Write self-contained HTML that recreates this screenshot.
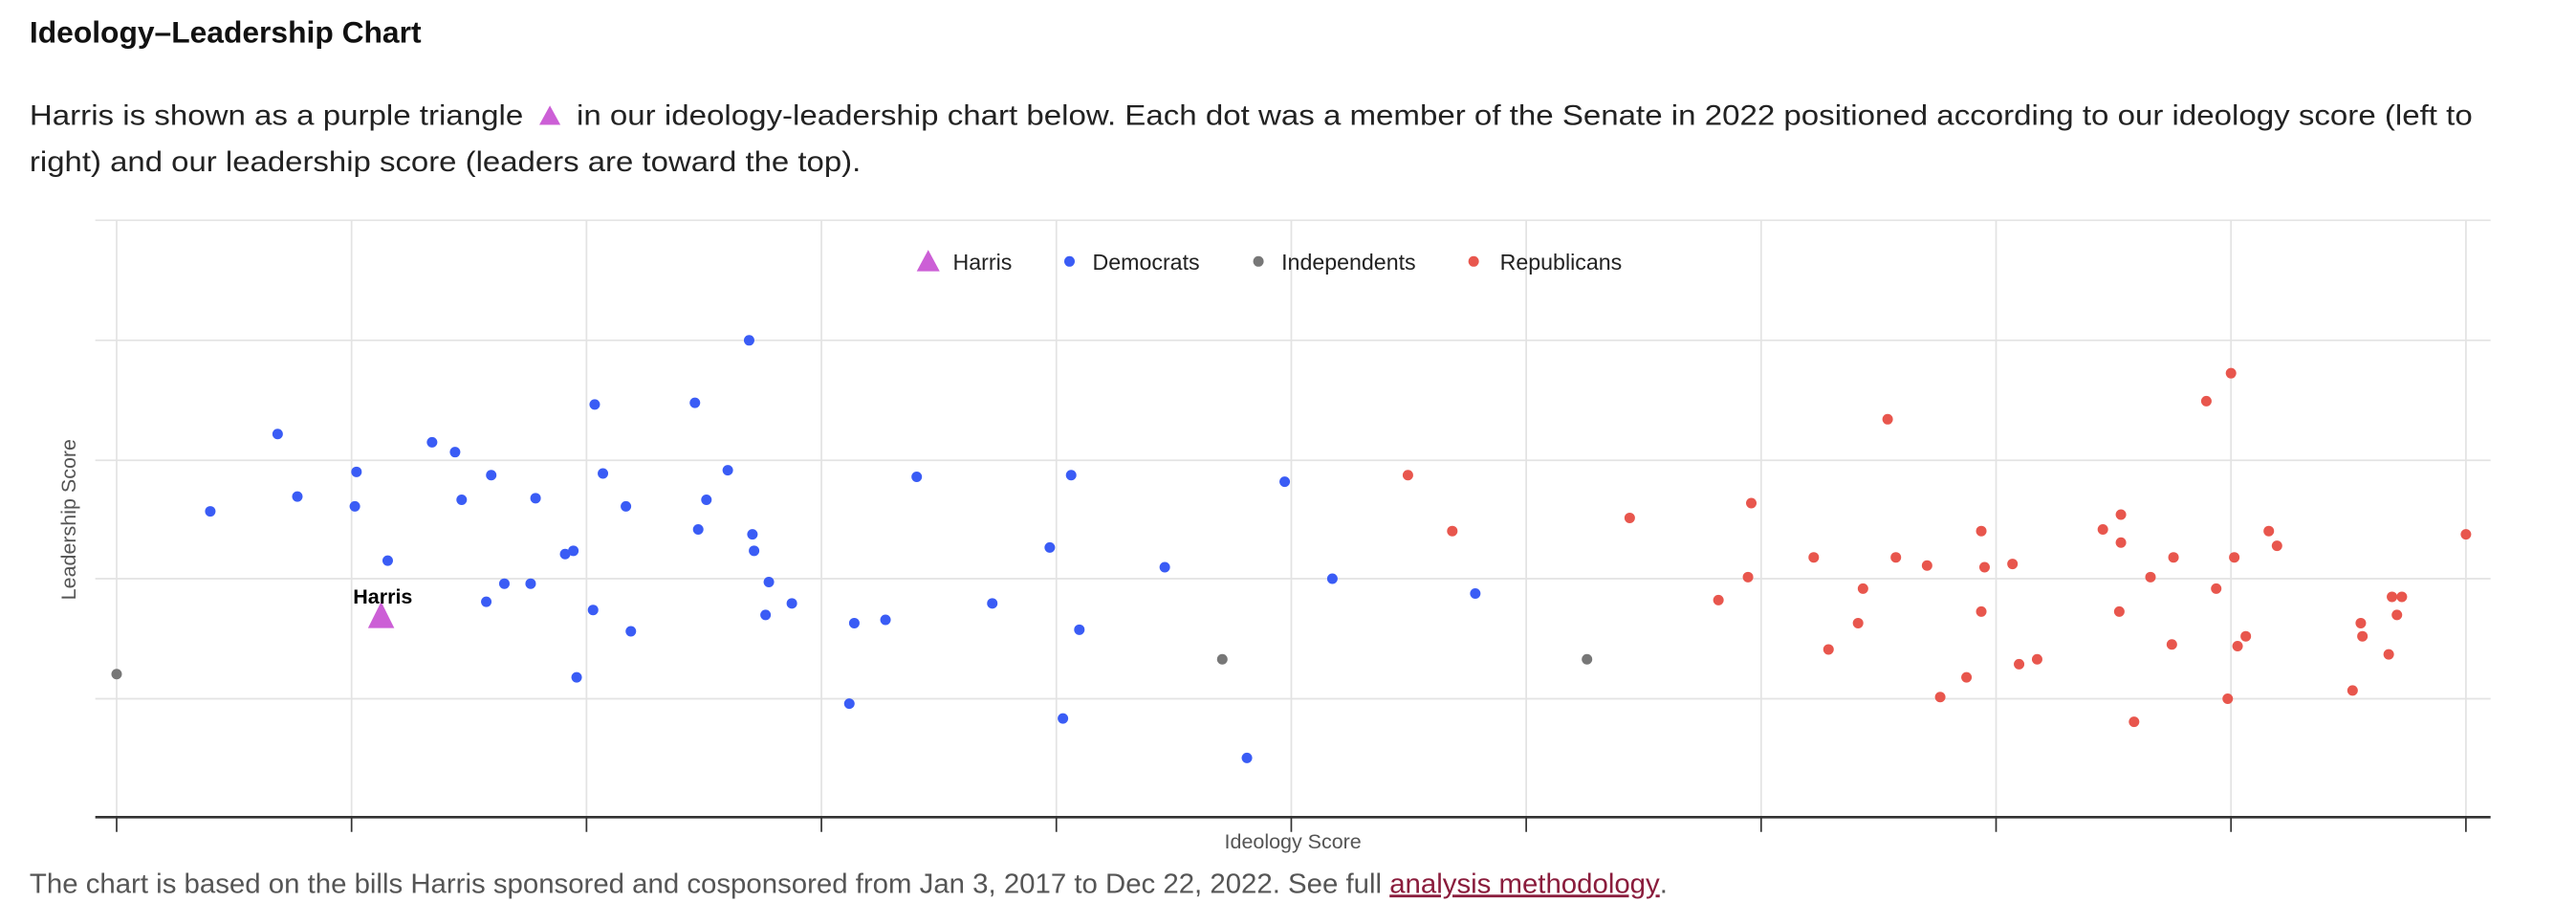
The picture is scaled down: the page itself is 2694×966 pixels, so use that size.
<!DOCTYPE html>
<html><head><meta charset="utf-8"><style>
html,body{margin:0;padding:0;background:#fff}
svg{display:block}
text{font-family:"Liberation Sans",sans-serif}
</style></head><body>
<svg width="2694" height="966" viewBox="0 0 1568 562" preserveAspectRatio="none" xmlns="http://www.w3.org/2000/svg">
<text x="18" y="26" font-size="18.5" font-weight="bold" fill="#111">Ideology–Leadership Chart</text>
<text x="18" y="76" font-size="17.5" fill="#222" textLength="1487" lengthAdjust="spacingAndGlyphs">Harris is shown as a purple triangle <tspan fill="#cc5fd6" font-size="20">▲</tspan> in our ideology-leadership chart below. Each dot was a member of the Senate in 2022 positioned according to our ideology score (left to</text>
<text x="18" y="104" font-size="17.5" fill="#222" textLength="506" lengthAdjust="spacingAndGlyphs">right) and our leadership score (leaders are toward the top).</text>
<g stroke="#e3e3e3" stroke-width="1">
<line x1="58" x2="1516" y1="134" y2="134"/><line x1="58" x2="1516" y1="207" y2="207"/><line x1="58" x2="1516" y1="280" y2="280"/><line x1="58" x2="1516" y1="352" y2="352"/><line x1="58" x2="1516" y1="425" y2="425"/>
<line x1="71" x2="71" y1="134" y2="497"/><line x1="214" x2="214" y1="134" y2="497"/><line x1="357" x2="357" y1="134" y2="497"/><line x1="500" x2="500" y1="134" y2="497"/><line x1="643" x2="643" y1="134" y2="497"/><line x1="786" x2="786" y1="134" y2="497"/><line x1="929" x2="929" y1="134" y2="497"/><line x1="1072" x2="1072" y1="134" y2="497"/><line x1="1215" x2="1215" y1="134" y2="497"/><line x1="1358" x2="1358" y1="134" y2="497"/><line x1="1501" x2="1501" y1="134" y2="497"/>
</g>
<line x1="58" x2="1516" y1="497" y2="497" stroke="#333" stroke-width="1.5"/>
<g stroke="#333" stroke-width="1">
<line x1="71" x2="71" y1="497" y2="506"/><line x1="214" x2="214" y1="497" y2="506"/><line x1="357" x2="357" y1="497" y2="506"/><line x1="500" x2="500" y1="497" y2="506"/><line x1="643" x2="643" y1="497" y2="506"/><line x1="786" x2="786" y1="497" y2="506"/><line x1="929" x2="929" y1="497" y2="506"/><line x1="1072" x2="1072" y1="497" y2="506"/><line x1="1215" x2="1215" y1="497" y2="506"/><line x1="1358" x2="1358" y1="497" y2="506"/><line x1="1501" x2="1501" y1="497" y2="506"/>
</g>
<text x="787" y="516" font-size="12.5" fill="#555" text-anchor="middle">Ideology Score</text>
<text transform="translate(46,316) rotate(-90)" font-size="12.5" fill="#555" text-anchor="middle">Leadership Score</text>
<polygon points="565,152 572,165 558,165" fill="#cc5fd6"/>
<text x="580" y="164" font-size="13.5" fill="#222">Harris</text>
<circle cx="651" cy="159" r="3.2" fill="#3a5cf5"/>
<text x="665" y="164" font-size="13.5" fill="#222">Democrats</text>
<circle cx="766" cy="159" r="3.2" fill="#777"/>
<text x="780" y="164" font-size="13.5" fill="#222">Independents</text>
<circle cx="897" cy="159" r="3.2" fill="#e8564d"/>
<text x="913" y="164" font-size="13.5" fill="#222">Republicans</text>
<g fill="#3a5cf5">
<circle cx="128" cy="311" r="3.2"/><circle cx="169" cy="264" r="3.2"/><circle cx="181" cy="302" r="3.2"/><circle cx="217" cy="287" r="3.2"/><circle cx="216" cy="308" r="3.2"/><circle cx="236" cy="341" r="3.2"/><circle cx="263" cy="269" r="3.2"/><circle cx="277" cy="275" r="3.2"/><circle cx="281" cy="304" r="3.2"/><circle cx="299" cy="289" r="3.2"/><circle cx="296" cy="366" r="3.2"/><circle cx="307" cy="355" r="3.2"/><circle cx="323" cy="355" r="3.2"/><circle cx="326" cy="303" r="3.2"/><circle cx="344" cy="337" r="3.2"/><circle cx="349" cy="335" r="3.2"/><circle cx="351" cy="412" r="3.2"/><circle cx="361" cy="371" r="3.2"/><circle cx="362" cy="246" r="3.2"/><circle cx="367" cy="288" r="3.2"/><circle cx="381" cy="308" r="3.2"/><circle cx="384" cy="384" r="3.2"/><circle cx="423" cy="245" r="3.2"/><circle cx="425" cy="322" r="3.2"/><circle cx="430" cy="304" r="3.2"/><circle cx="443" cy="286" r="3.2"/><circle cx="456" cy="207" r="3.2"/><circle cx="458" cy="325" r="3.2"/><circle cx="459" cy="335" r="3.2"/><circle cx="466" cy="374" r="3.2"/><circle cx="468" cy="354" r="3.2"/><circle cx="482" cy="367" r="3.2"/><circle cx="517" cy="428" r="3.2"/><circle cx="520" cy="379" r="3.2"/><circle cx="539" cy="377" r="3.2"/><circle cx="558" cy="290" r="3.2"/><circle cx="604" cy="367" r="3.2"/><circle cx="639" cy="333" r="3.2"/><circle cx="647" cy="437" r="3.2"/><circle cx="652" cy="289" r="3.2"/><circle cx="657" cy="383" r="3.2"/><circle cx="709" cy="345" r="3.2"/><circle cx="759" cy="461" r="3.2"/><circle cx="782" cy="293" r="3.2"/><circle cx="811" cy="352" r="3.2"/><circle cx="898" cy="361" r="3.2"/>
</g>
<g fill="#777"><circle cx="71" cy="410" r="3.2"/><circle cx="744" cy="401" r="3.2"/><circle cx="966" cy="401" r="3.2"/></g>
<g fill="#e8564d">
<circle cx="857" cy="289" r="3.2"/><circle cx="884" cy="323" r="3.2"/><circle cx="992" cy="315" r="3.2"/><circle cx="1046" cy="365" r="3.2"/><circle cx="1064" cy="351" r="3.2"/><circle cx="1066" cy="306" r="3.2"/><circle cx="1104" cy="339" r="3.2"/><circle cx="1113" cy="395" r="3.2"/><circle cx="1131" cy="379" r="3.2"/><circle cx="1134" cy="358" r="3.2"/><circle cx="1149" cy="255" r="3.2"/><circle cx="1154" cy="339" r="3.2"/><circle cx="1173" cy="344" r="3.2"/><circle cx="1181" cy="424" r="3.2"/><circle cx="1197" cy="412" r="3.2"/><circle cx="1206" cy="372" r="3.2"/><circle cx="1206" cy="323" r="3.2"/><circle cx="1208" cy="345" r="3.2"/><circle cx="1225" cy="343" r="3.2"/><circle cx="1229" cy="404" r="3.2"/><circle cx="1240" cy="401" r="3.2"/><circle cx="1280" cy="322" r="3.2"/><circle cx="1290" cy="372" r="3.2"/><circle cx="1291" cy="313" r="3.2"/><circle cx="1291" cy="330" r="3.2"/><circle cx="1299" cy="439" r="3.2"/><circle cx="1309" cy="351" r="3.2"/><circle cx="1322" cy="392" r="3.2"/><circle cx="1323" cy="339" r="3.2"/><circle cx="1343" cy="244" r="3.2"/><circle cx="1349" cy="358" r="3.2"/><circle cx="1356" cy="425" r="3.2"/><circle cx="1358" cy="227" r="3.2"/><circle cx="1360" cy="339" r="3.2"/><circle cx="1362" cy="393" r="3.2"/><circle cx="1367" cy="387" r="3.2"/><circle cx="1381" cy="323" r="3.2"/><circle cx="1386" cy="332" r="3.2"/><circle cx="1432" cy="420" r="3.2"/><circle cx="1437" cy="379" r="3.2"/><circle cx="1438" cy="387" r="3.2"/><circle cx="1454" cy="398" r="3.2"/><circle cx="1456" cy="363" r="3.2"/><circle cx="1459" cy="374" r="3.2"/><circle cx="1462" cy="363" r="3.2"/><circle cx="1501" cy="325" r="3.2"/>
</g>
<polygon points="232,366 240,382 224,382" fill="#cc5fd6"/>
<text x="233" y="367" font-size="12.5" font-weight="bold" fill="#000" text-anchor="middle">Harris</text>
<text x="18" y="543" font-size="16.5" fill="#555" textLength="997" lengthAdjust="spacingAndGlyphs">The chart is based on the bills Harris sponsored and cosponsored from Jan 3, 2017 to Dec 22, 2022. See full <tspan fill="#8a1c3c" text-decoration="underline">analysis methodology</tspan>.</text>
</svg>
</body></html>
